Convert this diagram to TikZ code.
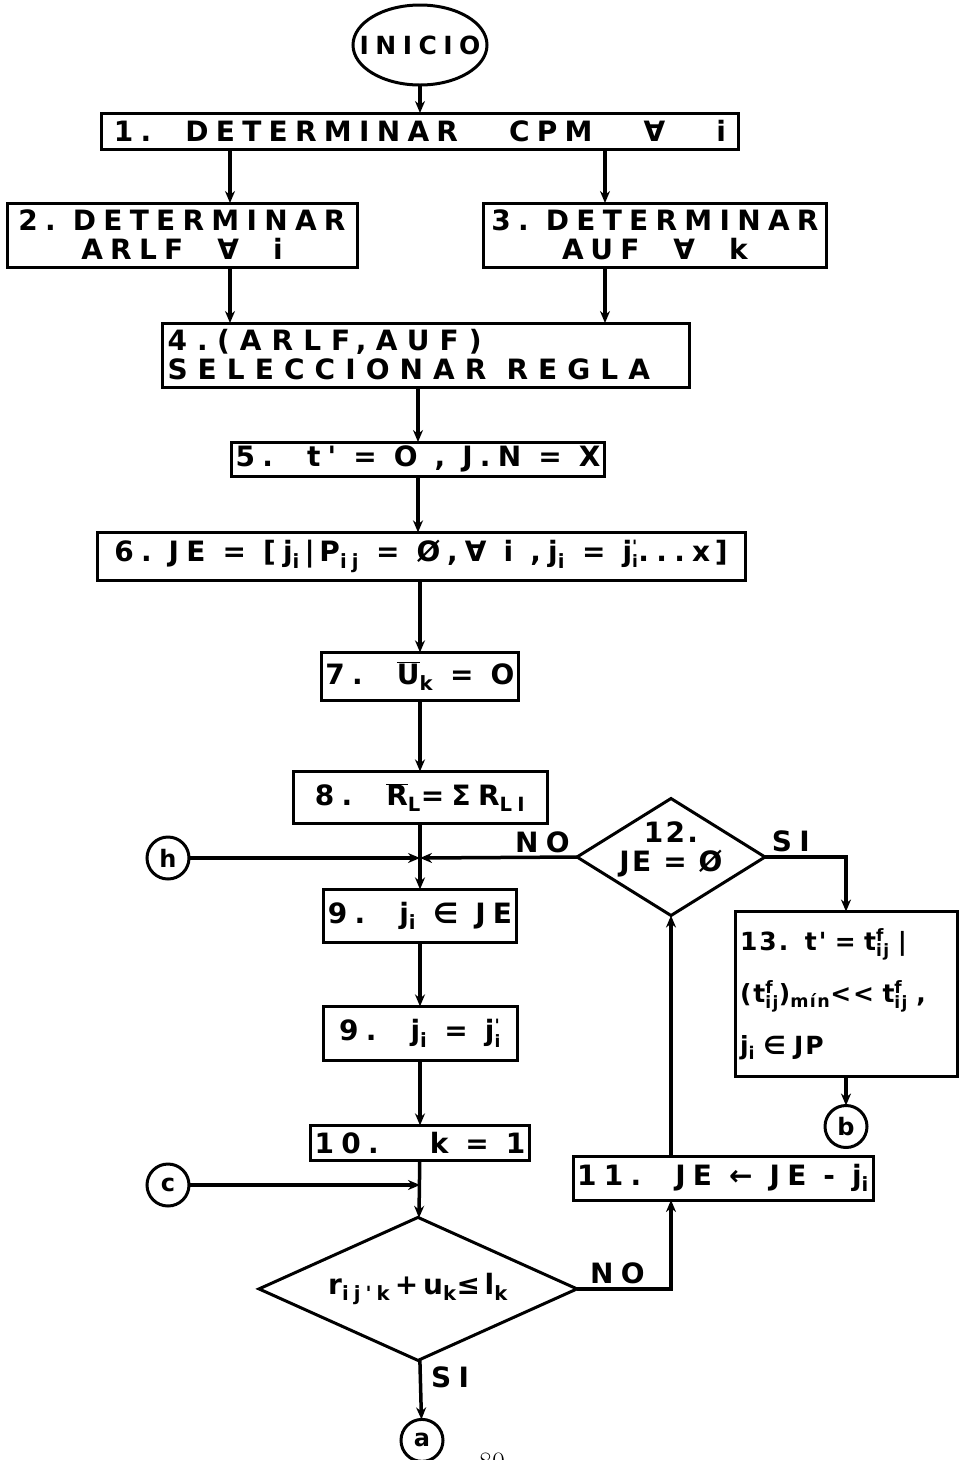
\documentclass[tikz,border=0pt]{standalone}
\usepackage{fontspec}
\newfontfamily\letterfont{DejaVu Sans}[LetterSpace=26]
\newfontfamily\widefont{DejaVu Sans}[LetterSpace=36]
\newfontfamily\tightfont{DejaVu Sans}[LetterSpace=8]
\usepackage{tikz}
\usetikzlibrary{positioning,arrows.meta,shapes.geometric,calc}

\newcommand\dn[1]{\textsubscript{#1}}
\newcommand\tf[2]{$^{\mbox{\fontsize{17}{17}\selectfont #1}}_{\mbox{\fontsize{17}{17}\selectfont #2}}$}
\newcommand\ob[1]{$\overline{\mbox{#1}}$}

\begin{document}
\begin{tikzpicture}[x=1pt, y=-1pt,
  lettering/.style={font=\letterfont\bfseries\fontsize{28}{29}\selectfont},
  stepbox/.style={draw, line width=3pt, outer sep=0pt, align=center, inner sep=4pt, lettering},
  decision/.style={draw, diamond, line width=3pt, outer sep=0pt, inner sep=0pt},
  connector/.style={draw, circle, line width=3pt, outer sep=0pt, minimum size=42pt, inner sep=0pt,
                    font=\letterfont\bfseries\fontsize{24}{24}\selectfont},
  arr/.style={-{Stealth[length=12pt, width=10pt]}, line width=3.5pt},
  lbl/.style={lettering, inner sep=3pt}]
  \useasboundingbox (0,0) rectangle (959,1460);
  % main column
  \node[draw, ellipse, line width=3pt, outer sep=0pt, minimum width=134pt, minimum height=80pt,
        label={[font=\letterfont\bfseries\fontsize{25}{25}\selectfont]center:INICIO}] (ini) at (420,45) {};
  \node[stepbox, minimum width=637pt, minimum height=36pt, below=28pt of ini] (b1)
    {1.\ \ DETERMINAR\ \ \ CPM\ \ \ ∀\ \ \ i};
  \node[stepbox, minimum width=350pt, minimum height=64pt, below=54pt of b1, xshift=-238pt] (b2)
    {2.\ DETERMINAR\\ARLF\ \ ∀\ \ i};
  \node[stepbox, minimum width=343pt, minimum height=64pt, below=54pt of b1, xshift=235pt] (b3)
    {3.\ DETERMINAR\\AUF\ \ ∀\ \ k};
  \node[stepbox, align=left, text width=517pt, inner xsep=5pt, minimum height=64pt,
        font=\widefont\bfseries\fontsize{28}{29}\selectfont,
        below=56pt of b2, xshift=244pt] (b4)
    {4.\ (ARLF, AUF)\\SELECCIONAR\hspace{20pt}REGLA};
  \node[stepbox, minimum width=320pt, minimum height=32pt, below=55pt of b4, xshift=-8pt] (b5)
    {5.\ \ t' = O , J.N = X};
  \node[stepbox, minimum width=648pt, minimum height=48pt, below=56pt of b5, xshift=3pt] (b6)
    {6.\ JE = [j\dn{i}\,|\,P\dn{ij} = Ø,∀ i ,j\dn{i} = j\tf{'}{i}...x\,]};
  \node[stepbox, minimum width=194pt, minimum height=48pt, below=72pt of b6, xshift=-1pt] (b7)
    {7.\ \ \ob{U}\dn{k} = O};
  \node[stepbox, minimum width=254pt, minimum height=52pt, below=71pt of b7] (b8)
    {8.\ \ \ob{R}\dn{L}=ΣR\dn{LI}};
  \node[stepbox, minimum width=193pt, minimum height=53pt, below=66pt of b8] (b9)
    {9.\ \ j\dn{i} ∈ JE};
  \node[stepbox, minimum width=194pt, minimum height=54pt, below=64pt of b9] (b9b)
    {9.\ \ j\dn{i} = j\tf{'}{i}};
  \node[stepbox, minimum width=195pt, minimum height=35pt, below=65pt of b9b] (b10)
    {10.\ \ \ k = 1};
  \node[decision, minimum width=318pt, minimum height=143pt, below=57pt of b10, xshift=-2pt,
        label={[lettering]center:r\dn{ij'k}\,+\,u\dn{k}≤\,l\dn{k}}] (chk) {};
  \node[connector, below=59pt of chk, xshift=4pt] (a) {a};
  % side nodes
  \node[connector] (h) at (168,858) {h};
  \node[connector] (c) at (168,1185) {c};
  \node[decision, minimum width=188pt, minimum height=117pt,
        label={[font=\tightfont\bfseries\fontsize{28}{29}\selectfont, align=center, yshift=8pt]center:12.\\JE = Ø}] (d12) at (671,857) {};
  \node[stepbox, align=left, text width=212pt, inner xsep=5pt, minimum height=165pt,
        font=\tightfont\bfseries\fontsize{25}{52}\selectfont] (b13) at (846,994)
    {13.\ \ t' = t\tf{f}{ij} |\\(t\tf{f}{ij})\dn{mín}<< t\tf{f}{ij} ,\\j\dn{i} ∈ JP};
  \node[connector, below=29pt of b13] (b) {b};
  \node[stepbox, minimum width=300pt, minimum height=44pt] (b11) at (723,1178)
    {11.\ \ JE ← JE - j\dn{i}};
  \node[font=\fontsize{28}{28}\selectfont] (pg) at (492,1462) {80};
  % connectors
  \draw[arr] (ini) -- (b1);
  \draw[arr] ([xshift=48pt]b2.north |- b1.south) -- ([xshift=48pt]b2.north);
  \draw[arr] ([xshift=-50pt]b3.north |- b1.south) -- ([xshift=-50pt]b3.north);
  \draw[arr] ([xshift=48pt]b2.south) -- ([xshift=48pt]b2.south |- b4.north);
  \draw[arr] ([xshift=-50pt]b3.south) -- ([xshift=-50pt]b3.south |- b4.north);
  \draw[arr] (b5.north |- b4.south) -- (b5);
  \draw[arr] (b5.south) -- (b5.south |- b6.north);
  \draw[arr] (b6.south -| b7) -- (b7);
  \draw[arr] (b7) -- (b8);
  \draw[arr] (b8) -- (b9);
  \draw[arr] (b9) -- (b9b);
  \draw[arr] (b9b) -- (b10);
  \draw[arr] (b10) -- (chk);
  \draw[arr] (chk) -- node[lbl, pos=0.3, right=6pt] {SI} (a);
  \coordinate (jh) at (b9.north |- h);
  \draw[arr] (h) -- (jh);
  \draw[arr] (d12.west) -- node[lbl, pos=0.22, above] {NO} (jh);
  \draw[arr] (d12.east) -- node[lbl, pos=0.32, above] {SI} (d12.east -| b13) -- (b13);
  \draw[arr] (b13) -- (b);
  \draw[arr] (b11.north -| d12) -- (d12.south);
  \draw[arr] (chk.east) -- node[lbl, pos=0.43, above] {NO} (chk.east -| d12) -- (b11.south -| d12);
  \coordinate (jc) at (b10.south |- c);
  \draw[arr] (c) -- (jc);
\end{tikzpicture}
\end{document}
